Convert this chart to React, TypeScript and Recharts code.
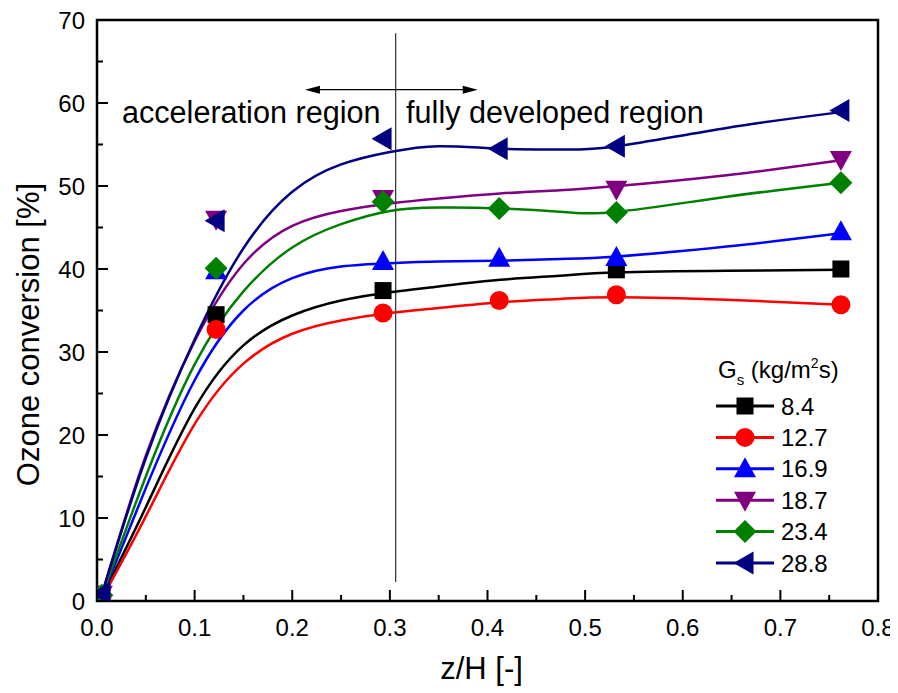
import { ComposedChart, Line, Scatter, XAxis, YAxis, ReferenceArea, ReferenceLine, ReferenceDot, Legend } from 'recharts';

const FONT = '"Liberation Sans", Arial, sans-serif';

// fitted curves
const curveX = [0.005, 0.05, 0.1, 0.15, 0.2, 0.25, 0.3, 0.35, 0.413, 0.474, 0.533, 0.645, 0.762];
const curve84 = [0.5, 11.3, 23.2, 30.8, 34.4, 36.2, 37.2, 37.9, 38.7, 39.2, 39.6, 39.8, 39.9];
const curve127 = [0.3, 10.2, 21.3, 28.6, 32.2, 33.8, 34.7, 35.3, 36.0, 36.4, 36.6, 36.3, 35.7];
const curve169 = [0.5, 13.6, 26.6, 35.0, 38.9, 40.3, 40.7, 40.9, 41.0, 41.2, 41.5, 42.7, 44.3];
const curve187 = [0.8, 17.5, 31.3, 40.6, 45.2, 47.0, 47.9, 48.5, 49.1, 49.5, 50.0, 51.3, 53.1];
const curve234 = [0.6, 15.0, 28.5, 37.3, 42.6, 45.4, 47.0, 47.4, 47.3, 46.9, 46.9, 48.7, 50.4];
const curve288 = [0.8, 17.2, 31.5, 42.5, 49.3, 52.6, 54.1, 54.8, 54.5, 54.4, 54.8, 57.0, 58.9];

// measured points
const pointX = [0.005, 0.122, 0.293, 0.412, 0.532, 0.762];
const pts84 = [0.8, 34.5, 37.4, null, 39.9, 40.0];
const pts127 = [0.5, 32.7, 34.7, 36.2, 36.9, 35.7];
const pts169 = [0.5, 39.8, 40.9, 41.3, 41.4, 44.5];
const pts187 = [0.8, 46.0, 48.5, null, 49.6, 53.2];
const pts234 = [0.7, 40.1, 48.1, 47.3, 46.8, 50.4];
const pts288 = [0.9, 45.8, 55.7, 54.5, 54.8, 59.1];

const xTicks = [0, 0.05, 0.1, 0.15, 0.2, 0.25, 0.3, 0.35, 0.4, 0.45, 0.5, 0.55, 0.6, 0.65, 0.7, 0.75, 0.8];
const yTicks = [0, 5, 10, 15, 20, 25, 30, 35, 40, 45, 50, 55, 60, 65, 70];

const series = [
  { key: 's0', name: '8.4', color: '#000000', marker: 'square', curve: curve84, pts: pts84 },
  { key: 's1', name: '12.7', color: '#ff0000', marker: 'circle', curve: curve127, pts: pts127 },
  { key: 's2', name: '16.9', color: '#0000ff', marker: 'up', curve: curve169, pts: pts169 },
  { key: 's3', name: '18.7', color: '#800080', marker: 'down', curve: curve187, pts: pts187 },
  { key: 's4', name: '23.4', color: '#008000', marker: 'diamond', curve: curve234, pts: pts234 },
  { key: 's5', name: '28.8', color: '#000080', marker: 'left', curve: curve288, pts: pts288 },
];

const curveData = curveX.map((x, i) => {
  const row: any = { x };
  series.forEach((s) => { row[s.key] = s.curve[i]; });
  return row;
});

const pointData = (vals: (number | null)[]) =>
  pointX.map((x, i) => ({ x, y: vals[i] })).filter((d) => d.y !== null);

function marker(kind: string, cx: number, cy: number, color: string) {
  switch (kind) {
    case 'square':
      return <rect x={cx - 8.5} y={cy - 8.5} width={17} height={17} fill={color} />;
    case 'circle':
      return <circle cx={cx} cy={cy} r={9.5} fill={color} />;
    case 'up':
      return <polygon points={`${cx},${cy - 11.5} ${cx - 11},${cy + 8.5} ${cx + 11},${cy + 8.5}`} fill={color} />;
    case 'down':
      return <polygon points={`${cx},${cy + 11.5} ${cx - 11},${cy - 8.5} ${cx + 11},${cy - 8.5}`} fill={color} />;
    case 'diamond':
      return <polygon points={`${cx},${cy - 11.5} ${cx + 11.5},${cy} ${cx},${cy + 11.5} ${cx - 11.5},${cy}`} fill={color} />;
    default:
      return <polygon points={`${cx - 11.5},${cy} ${cx + 8.5},${cy - 11.5} ${cx + 8.5},${cy + 11.5}`} fill={color} />;
  }
}

const XTick = (props: any) => {
  const { x, y, payload } = props;
  const v = payload.value;
  const major = Math.round(v * 100) % 10 === 0;
  return (
    <g>
      <line x1={x} x2={x} y1={y} y2={y - (major ? 11 : 6)} stroke="#000" strokeWidth={2} />
      {major && (
        <text x={x} y={y + 35} textAnchor="middle" fontSize={24} fontFamily={FONT} fill="#000">
          {v.toFixed(1)}
        </text>
      )}
    </g>
  );
};

const YTick = (props: any) => {
  const { x, y, payload } = props;
  const v = payload.value;
  const major = v % 10 === 0;
  return (
    <g>
      <line x1={x} x2={x + (major ? 11 : 6)} y1={y} y2={y} stroke="#000" strokeWidth={2} />
      {major && (
        <text x={x - 12} y={y + 8.5} textAnchor="end" fontSize={24} fontFamily={FONT} fill="#000">
          {v}
        </text>
      )}
    </g>
  );
};

const YTitle = (props: any) => {
  const vb = props.viewBox || { x: 0, y: 12, width: 89, height: 581 };
  const cx = vb.x + 20;
  const cy = vb.y + vb.height / 2 + 24;
  return (
    <text x={cx} y={cy} transform={`rotate(-90 ${cx} ${cy})`} textAnchor="middle" dominantBaseline="central"
      fontSize={31} fontFamily={FONT} fill="#000">
      Ozone conversion [%]
    </text>
  );
};

const XTitle = (props: any) => {
  const vb = props.viewBox || { x: 89, y: 593, width: 781, height: 92 };
  return (
    <text x={vb.x + vb.width / 2 - 6} y={vb.y + 78} textAnchor="middle" fontSize={31} fontFamily={FONT} fill="#000">
      z/H [-]
    </text>
  );
};

const Arrow = (props: any) => {
  const { x1, y1, x2, y2 } = props;
  return (
    <g>
      <line x1={x1 + 10} y1={y1} x2={x2 - 10} y2={y2} stroke="#000" strokeWidth={1.2} />
      <polygon points={`${x1},${y1} ${x1 + 15},${y1 - 4} ${x1 + 15},${y1 + 4}`} fill="#000" />
      <polygon points={`${x2},${y2} ${x2 - 15},${y2 - 4} ${x2 - 15},${y2 + 4}`} fill="#000" />
    </g>
  );
};

const note = (text: string) => (p: any) => (
  <text x={p.cx} y={p.cy} fontSize={30.6} fontFamily={FONT} fill="#000">{text}</text>
);

const LegendBox = () => (
  <svg width={170} height={230} style={{ overflow: 'visible' }}>
    <text x={2} y={25} fontSize={24} fontFamily={FONT} fill="#000">
      G<tspan fontSize={15} dy={7}>s</tspan>
      <tspan fontSize={24} dy={-7}> (kg/m</tspan>
      <tspan fontSize={14} dy={-10}>2</tspan>
      <tspan fontSize={24} dy={10}>s)</tspan>
    </text>
    {series.map((s, i) => {
      const cy = 53 + i * 31.4;
      return (
        <g key={s.key}>
          <line x1={0} x2={58} y1={cy} y2={cy} stroke={s.color} strokeWidth={3} />
          {marker(s.marker, 29, cy, s.color)}
          <text x={65} y={cy + 8.5} fontSize={24} fontFamily={FONT} fill="#000">{s.name}</text>
        </g>
      );
    })}
  </svg>
);

export default function App() {
  return (
    <div style={{ width: 890, height: 685 }}>
      <ComposedChart width={890} height={685} data={curveData} margin={{ top: 12, right: 20, bottom: 0, left: 0 }}>
        <XAxis type="number" dataKey="x" domain={[0, 0.8]} ticks={xTicks} allowDataOverflow height={92}
          tickSize={0} tickMargin={0} tickLine={false} axisLine={false} tick={XTick} interval={0}
          label={{ content: XTitle }} />
        <YAxis type="number" domain={[0, 70]} ticks={yTicks} allowDataOverflow width={89}
          tickSize={0} tickMargin={0} tickLine={false} axisLine={false} tick={YTick} interval={0}
          label={{ content: YTitle }} />
        <ReferenceArea x1={0} x2={0.8} y1={0} y2={70} fill="none" stroke="#000" strokeWidth={2.5} fillOpacity={0} />
        <ReferenceLine segment={[{ x: 0.306, y: 2.3 }, { x: 0.306, y: 68.4 }]} stroke="#000" strokeWidth={1} />
        <ReferenceLine segment={[{ x: 0.213, y: 61.6 }, { x: 0.39, y: 61.6 }]} shape={Arrow} />
        <ReferenceDot x={0.0256} y={57.6} r={0} shape={note('acceleration region')} />
        <ReferenceDot x={0.3166} y={57.6} r={0} shape={note('fully developed region')} />
        {series.map((s) => [
          <Line key={s.key + 'l'} dataKey={s.key} type="natural" stroke={s.color} strokeWidth={2.5}
            dot={false} activeDot={false} isAnimationActive={false} legendType="none" />,
          <Scatter key={s.key + 'p'} data={pointData(s.pts)} dataKey="y" fill={s.color} isAnimationActive={false}
            legendType="none" shape={(p: any) => marker(s.marker, p.cx, p.cy, s.color)} />,
        ])}
        <Legend layout="vertical" align="center" verticalAlign="middle" content={LegendBox}
          wrapperStyle={{ left: 708, top: 345, width: 170, height: 230 }} />
      </ComposedChart>
    </div>
  );
}
